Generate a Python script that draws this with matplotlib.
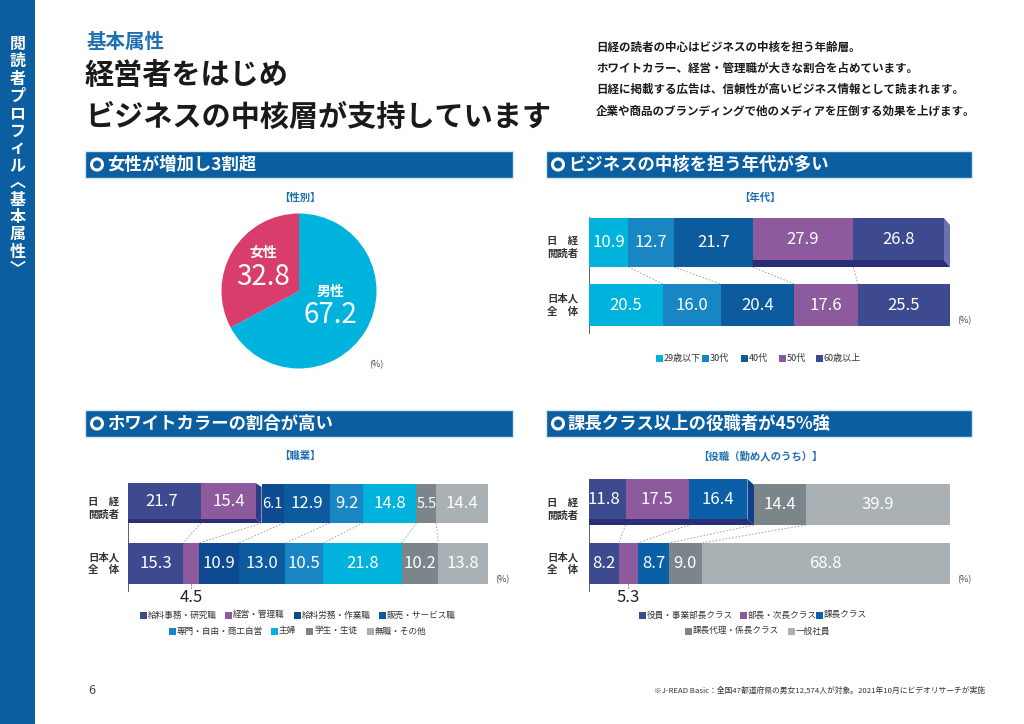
import numpy as np
import matplotlib
matplotlib.use('Agg')
import matplotlib.pyplot as plt
from matplotlib.patches import Rectangle, Polygon, Circle

plt.rcParams['font.family'] = ['Noto Sans CJK JP', 'DejaVu Sans']

W, H = 1024, 724

# ---- data ----
gender_labels = ['男性', '女性']
gender_values = [67.2, 32.8]

age_labels = ['29歳以下', '30代', '40代', '50代', '60歳以上']
age_nikkei = [10.9, 12.7, 21.7, 27.9, 26.8]
age_japan = [20.5, 16.0, 20.4, 17.6, 25.5]

job_labels = ['給料事務・研究職', '経営・管理職', '給料労務・作業職', '販売・サービス職',
              '専門・自由・商工自営', '主婦', '学生・生徒', '無職・その他']
job_nikkei = [21.7, 15.4, 6.1, 12.9, 9.2, 14.8, 5.5, 14.4]
job_japan = [15.3, 4.5, 10.9, 13.0, 10.5, 21.8, 10.2, 13.8]

post_labels = ['役員・事業部長クラス', '部長・次長クラス', '課長クラス',
               '課長代理・係長クラス', '一般社員']
post_nikkei = [11.8, 17.5, 16.4, 14.4, 39.9]
post_japan = [8.2, 5.3, 8.7, 9.0, 68.8]

row_labels = ['日　経\n閲読者', '日本人\n全　体']

# ---- colours ----
BLUE = '#0b5e9f'
TBLUE = '#1e6fb0'
CYAN = '#00b3dd'
MID = '#1786c2'
DARK = '#0b5b9e'
DEEP = '#0e4a8f'
PURPLE = '#8d5b9d'
NAVY = '#3d4a8f'
GRAY = '#7c8589'
LGRAY = '#a9b1b5'
PINK = '#d83d6c'

age_colors = [CYAN, MID, DARK, PURPLE, NAVY]
job_colors = [NAVY, PURPLE, DEEP, DARK, MID, CYAN, GRAY, LGRAY]
post_colors = [NAVY, PURPLE, '#0a5fa6', GRAY, LGRAY]

fig = plt.figure(figsize=(W / 100, H / 100), dpi=100)
bg = fig.add_axes([0, 0, 1, 1])
bg.set_xlim(0, W)
bg.set_ylim(H, 0)
bg.axis('off')

# side bar
bg.add_patch(Rectangle((0, 0), 35, H, color=BLUE, lw=0))
for i, ch in enumerate('閲読者プロフィル︿基本属性﹀'):
    bg.text(17.5, 44 + i * 17.3, ch, color='white', fontsize=11.5, fontweight='bold',
            ha='center', va='center')

# headline
bg.text(87, 42, '基本属性', color=TBLUE, fontsize=14, fontweight='bold', va='center')
bg.text(85, 75, '経営者をはじめ', color='#1a1a1a', fontsize=21, fontweight='bold', va='center')
bg.text(85, 117, 'ビジネスの中核層が支持しています', color='#1a1a1a', fontsize=21,
        fontweight='bold', va='center')
intro = ['日経の読者の中心はビジネスの中核を担う年齢層。',
         'ホワイトカラー、経営・管理職が大きな割合を占めています。',
         '日経に掲載する広告は、信頼性が高いビジネス情報として読まれます。',
         '企業や商品のブランディングで他のメディアを圧倒する効果を上げます。']
for i, s in enumerate(intro):
    bg.text(596, 47 + i * 21.3, s, color='#1a1a1a', fontsize=8.3, fontweight='bold', va='center')


def header(x0, x1, y0, y1, s):
    bg.add_patch(Rectangle((x0, y0), x1 - x0, y1 - y0, facecolor=BLUE, edgecolor='#d5e8f5', lw=1))
    yc = (y0 + y1) / 2
    bg.add_patch(Circle((x0 + 12, yc), 5.5, fill=False, edgecolor='white', lw=2.2))
    bg.text(x0 + 22, yc, s, color='white', fontsize=12.5, fontweight='bold', va='center')


header(85, 513, 151, 178, '女性が増加し3割超')
header(546, 972, 151, 178, 'ビジネスの中核を担う年代が多い')
header(85, 513, 410, 437, 'ホワイトカラーの割合が高い')
header(546, 972, 410, 437, '課長クラス以上の役職者が45%強')

for x, y, s in [(300, 198, '【性別】'), (760, 198, '【年代】'),
                (300, 456, '【職業】'), (760, 456, '【役職（勤め人のうち）】')]:
    bg.text(x, y, s, color=TBLUE, fontsize=7.5, fontweight='bold', ha='center', va='center')

# ---- pie ----
cx, cy, r = 299, 291, 77.5
axp = fig.add_axes([(cx - r) / W, 1 - (cy + r) / H, 2 * r / W, 2 * r / H])
axp.pie(gender_values, colors=[CYAN, PINK], startangle=90, counterclock=False,
        wedgeprops=dict(linewidth=0))
axp.set_xlim(-1, 1)
axp.set_ylim(-1, 1)
axp.text(0.40, -0.01, gender_labels[0], color='white', fontsize=10, fontweight='bold',
         ha='center', va='center')
axp.text(0.40, -0.31, f'{gender_values[0]:.1f}', color='white', fontsize=20,
         ha='center', va='center')
axp.text(-0.46, 0.50, gender_labels[1], color='white', fontsize=10, fontweight='bold',
         ha='center', va='center')
axp.text(-0.46, 0.18, f'{gender_values[1]:.1f}', color='white', fontsize=20,
         ha='center', va='center')
axp.text(1.0, -0.95, '(%)', color='#444', fontsize=6.5, ha='center', va='center')


# ---- stacked bars ----
def stacked(xl, xr, yn, hn, yj, hj, nik, jap, colors, raised, d, side, lab_px,
            small=None):
    u = yj - yn
    top, bot = yn - hn / 2 - 10, yj + hj / 2 + 25
    ax = fig.add_axes([xl / W, 1 - bot / H, (xr - xl) / W, (bot - top) / H])
    ax.set_xlim(0, 100)
    ax.set_ylim(-(bot - yj) / u, 1 + (yn - top) / u)
    ax.axis('off')
    px, py = 100 / (xr - xl), 1 / u
    dx, dy, sx, sy = d[0] * px, d[1] * py, d[2] * px, d[3] * py
    n = len(nik)
    ln = np.cumsum([0] + nik[:-1])
    rn = ln + np.array(nik)
    lj = np.cumsum([0] + jap[:-1])
    rj = lj + np.array(jap)
    hN, hJ = hn * py, hj * py
    yb, yt = 1 - hN / 2, 1 + hN / 2

    # axis line
    ax.plot([0, 0], [yt, -hJ / 2 - 7 * py], color='#555', lw=1.3, zorder=1)

    # japan
    ax.barh(0, jap, left=lj, height=hJ, color=colors, lw=0, zorder=2)
    for i, v in enumerate(jap):
        if i == small:
            continue
        ax.text((lj[i] + rj[i]) / 2, 0, f'{v:.1f}', color='white',
                fontsize=12 if v >= 7 else 10.5, ha='center', va='center', zorder=5)

    # nikkei flat part
    flat = [i for i in range(n) if i not in raised]
    ax.barh(1, [nik[i] for i in flat], left=[ln[i] for i in flat], height=hN,
            color=[colors[i] for i in flat], lw=0, zorder=2)
    for i in flat:
        ax.text((ln[i] + rn[i]) / 2, 1, f'{nik[i]:.1f}', color='white',
                fontsize=12 if nik[i] >= 7 else 10.5, ha='center', va='center', zorder=5)

    # nikkei raised part
    g0, g1 = ln[raised[0]], rn[raised[-1]]
    ax.add_patch(Polygon([(g0 - sx, yb + dy), (g1 - dx, yb + dy), (g1, yb), (g0, yb)],
                         closed=True, color=side[0], lw=0, zorder=3))
    ax.add_patch(Polygon([(g1 - dx, yb + dy), (g1 - dx, yt + sy), (g1, yt + sy - dy), (g1, yb)],
                         closed=True, color=side[1], lw=0, zorder=3))
    fl = [ln[i] - sx for i in raised]
    fr = [rn[i] - sx for i in raised[:-1]] + [g1 - dx]
    fy = (yb + dy + yt + sy) / 2
    ax.barh(fy, np.array(fr) - np.array(fl), left=fl, height=yt + sy - yb - dy,
            color=[colors[i] for i in raised], lw=0, zorder=4)
    for k, i in enumerate(raised):
        ax.text((fl[k] + fr[k]) / 2, fy, f'{nik[i]:.1f}', color='white', fontsize=12,
                ha='center', va='center', zorder=5)

    # connectors
    for i in range(n - 1):
        xn = rn[i] - sx if (i in raised and i != raised[-1]) else rn[i]
        ax.plot([xn, rj[i]], [yb, hJ / 2], ls=(0, (2, 2)), color='#9a9a9a', lw=0.6, zorder=1)

    # row labels
    lx = (lab_px - xl) * px
    ax.text(lx, 1 - 5 * py, row_labels[0], fontsize=7.5, fontweight='bold', color='#333',
            ha='center', va='center', linespacing=1.35, clip_on=False)
    ax.text(lx, 0, row_labels[1], fontsize=7.5, fontweight='bold', color='#333',
            ha='center', va='center', linespacing=1.35, clip_on=False)
    ax.text(100 + 14 * px, -16 * py, '(%)', fontsize=6.5, color='#444',
            ha='center', va='center', clip_on=False)

    if small is not None:
        xc = (lj[small] + rj[small]) / 2
        ax.plot([xc, xc], [-hJ / 2, -hJ / 2 - 6 * py], ls=':', color='#555', lw=0.8)
        ax.text(xc, -hJ / 2 - 14 * py, f'{jap[small]:.1f}', fontsize=12, color='#222',
                ha='center', va='center', clip_on=False)
    return ax


stacked(589, 950, 242.5, 49, 305, 42, age_nikkei, age_japan, age_colors, [3, 4],
        (6, 7, 0, 0), ('#2a2d78', '#6b73ae'), 563)
stacked(128, 488, 503.5, 39, 563.5, 41, job_nikkei, job_japan, job_colors, [0, 1],
        (6, 4, 5, 1), ('#2a2f78', '#2e3c88'), 104, small=1)
stacked(589, 950, 504.5, 41, 563.5, 41, post_nikkei, post_japan, post_colors, [0, 1, 2],
        (6.5, 6, 6, 5), ('#2a2f78', '#0b3f86'), 563, small=1)


# ---- legends ----
def legend(xs, y, labels, colors, fs=6.2):
    for x, s, c in zip(xs, labels, colors):
        bg.add_patch(Rectangle((x - 3.5, y - 3.5), 7, 7, color=c, lw=0))
        bg.text(x + 5, y, s, fontsize=fs, color='#333', va='center')


legend([659, 705, 744, 782, 819], 358, age_labels, age_colors, fs=6.5)
legend([143, 228, 297, 382], 615, job_labels[:4], job_colors[:4])
legend([172, 274, 309, 370], 631, job_labels[4:], job_colors[4:])
legend([642, 743, 819], 615, post_labels[:3], post_colors[:3])
legend([688, 791], 631, post_labels[3:], post_colors[3:])

# footer
bg.text(92, 690, '6', fontsize=9, color='#444', ha='center', va='center')
bg.text(985, 690, '※J-READ Basic：全国47都道府県の男女12,574人が対象。2021年10月にビデオリサーチが実施',
        fontsize=5.6, color='#333', ha='right', va='center')

fig.savefig('out.png', dpi=100)
